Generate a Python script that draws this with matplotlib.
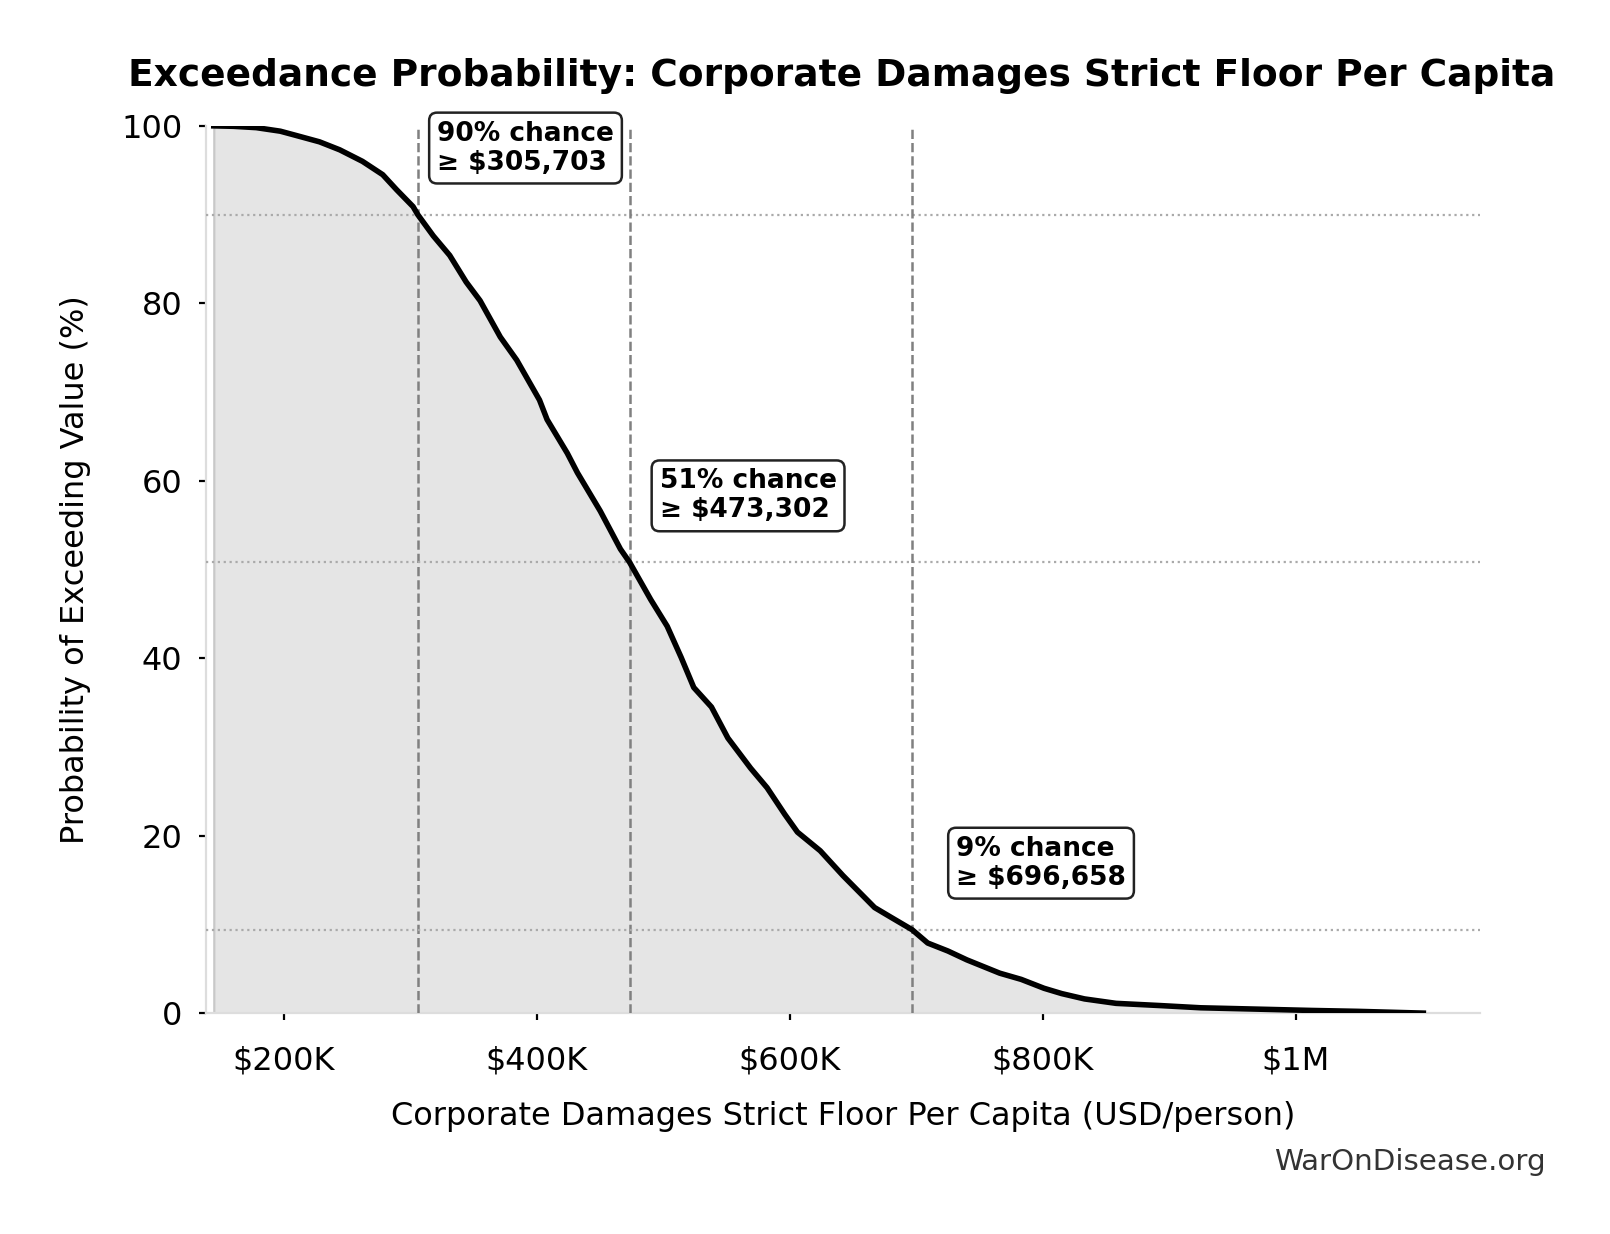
import matplotlib
matplotlib.use("Agg")
import matplotlib.pyplot as plt
from matplotlib.ticker import FuncFormatter

# exceedance curve (value in USD, probability in %)
values_k = [144.4, 160, 178, 197, 210, 228, 244, 262, 278, 289, 302, 305.7,
            318, 331, 344, 355, 371, 379, 384, 402, 408, 424, 432, 450, 466,
            473.3, 490, 503, 514, 524, 538, 551, 569, 582, 596, 606, 624, 642,
            667, 680, 696.7, 709, 725, 740, 766, 783, 801, 815, 833, 858, 893,
            925, 978, 1013, 1049, 1101]
exceed_pct = [100, 99.95, 99.8, 99.4, 98.9, 98.2, 97.3, 96.0, 94.5, 92.8, 90.9,
              90.0, 87.6, 85.4, 82.4, 80.3, 76.2, 74.6, 73.6, 69.1, 66.9, 63.1,
              60.9, 56.6, 52.3, 50.8, 46.6, 43.6, 40.1, 36.7, 34.5, 31.0, 27.6,
              25.4, 22.4, 20.4, 18.3, 15.5, 11.9, 10.8, 9.4, 7.9, 7.0, 6.0, 4.5,
              3.8, 2.8, 2.2, 1.6, 1.1, 0.85, 0.6, 0.42, 0.3, 0.2, 0.0]

# marked thresholds
mark_values = [305703, 473302, 696658]
mark_pct = [90.0, 50.8, 9.4]

x_ticks = [200e3, 400e3, 600e3, 800e3, 1e6]
y_ticks = [0, 20, 40, 60, 80, 100]

values = [v * 1000 for v in values_k]


def money(v, _pos=None):
    if v >= 1e6:
        return f"${v / 1e6:.0f}M"
    return f"${v / 1e3:.0f}K"


fig = plt.figure(figsize=(8.05, 6.17), dpi=200)
ax = fig.add_axes([0.128, 0.179, 0.791, 0.719])

ax.fill_between(values, exceed_pct, 0, color="#e5e5e5", lw=0.8, edgecolor="#c8c8c8")
ax.plot(values, exceed_pct, color="black", lw=2.0, zorder=5)

for v, p in zip(mark_values, mark_pct):
    ax.axvline(v, color="#808080", ls="--", lw=0.9, zorder=3)
    ax.axhline(p, color="#aaaaaa", ls=":", lw=0.8, zorder=3)
    ax.text(v * 1.05, p + 7.5, f"{p:.0f}% chance\n≥ ${v:,.0f}",
            ha="left", va="center", fontsize=9.5, fontweight="bold",
            linespacing=1.15, zorder=6,
            bbox=dict(boxstyle="round,pad=0.3", fc="white", ec="#222222", lw=0.9))

ax.set_xlim(138.3e3, 1145.5e3)
ax.set_ylim(0, 100)
ax.set_xticks(x_ticks)
ax.set_yticks(y_ticks)
ax.xaxis.set_major_formatter(FuncFormatter(money))
ax.tick_params(labelsize=11.5, length=2.5, width=0.8)
ax.tick_params(axis="x", pad=9)
ax.tick_params(axis="y", pad=6)

for side in ("top", "right"):
    ax.spines[side].set_visible(False)
for side in ("left", "bottom"):
    ax.spines[side].set_color("#dddddd")

ax.set_xlabel("Corporate Damages Strict Floor Per Capita (USD/person)", fontsize=11.5, labelpad=9)
ax.set_ylabel("Probability of Exceeding Value (%)", fontsize=11.5, labelpad=11)
fig.suptitle("Exceedance Probability: Corporate Damages Strict Floor Per Capita",
             fontsize=13.5, fontweight="bold", x=0.523, y=0.953)
fig.text(0.96, 0.058, "WarOnDisease.org", ha="right", va="center",
         fontsize=10.6, color="#333333")

fig.savefig("out.png", dpi=200)
